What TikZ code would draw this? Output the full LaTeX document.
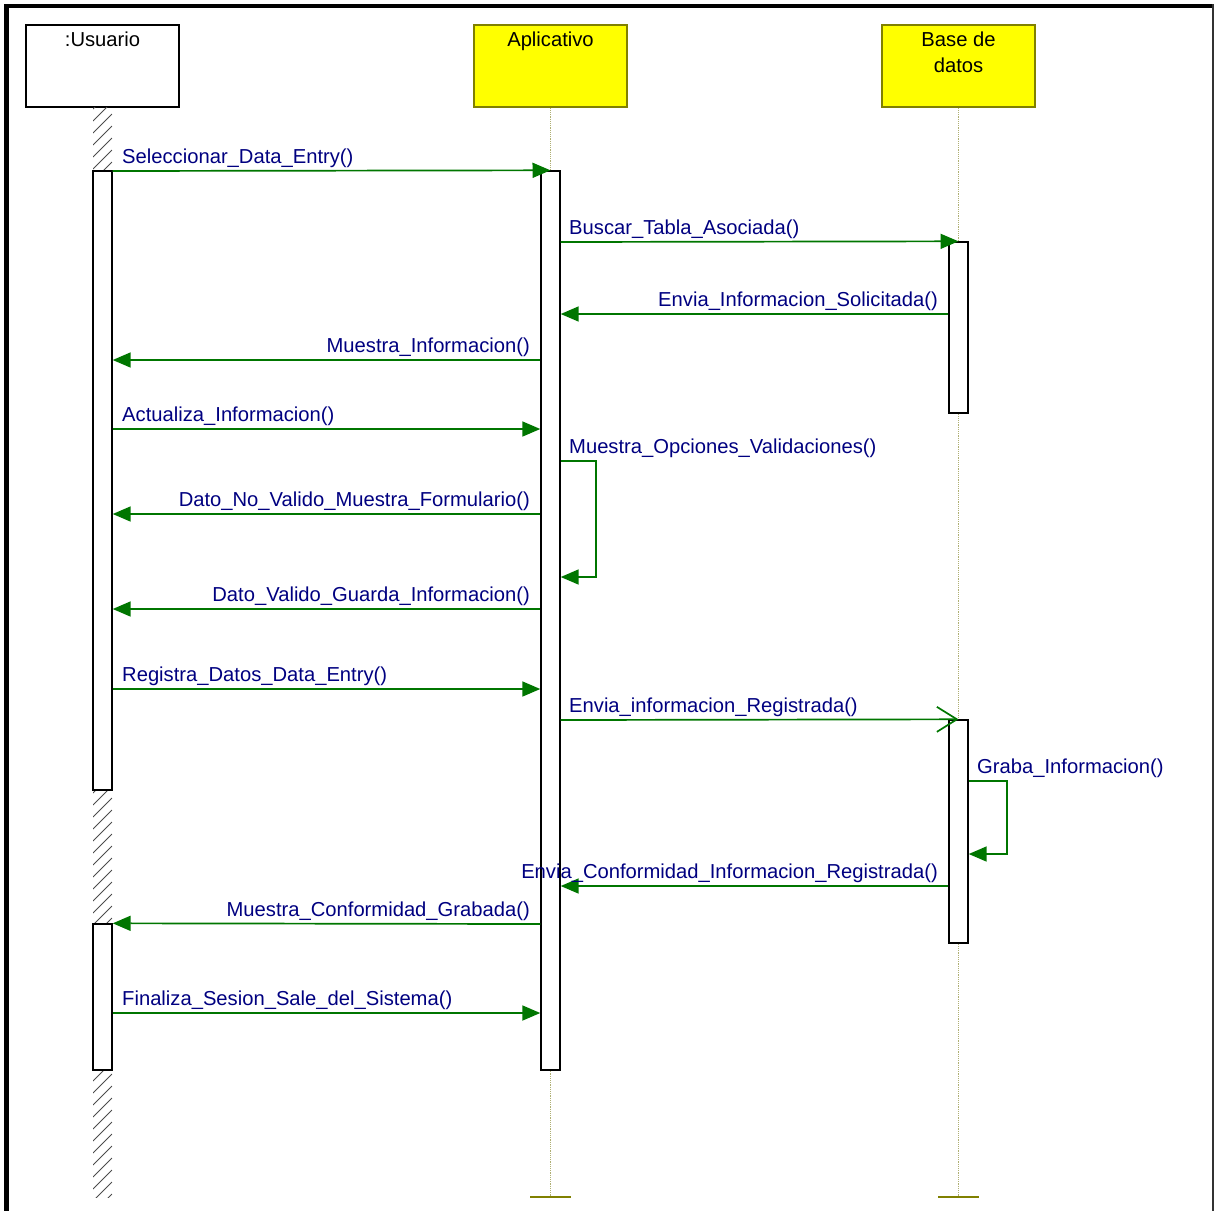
\documentclass[tikz,border=0pt]{standalone}
\usepackage{fontspec}
\setmainfont{Liberation Sans}
\usetikzlibrary{arrows.meta}
\definecolor{msggreen}{RGB}{0,118,0}
\definecolor{msgtext}{RGB}{0,0,128}
\definecolor{hdryellow}{RGB}{255,255,0}
\definecolor{hdrolive}{RGB}{128,128,0}
\definecolor{lifeolive}{RGB}{175,175,115}
\begin{document}
\begin{tikzpicture}[x=1pt,y=-1pt,
  font=\fontsize{20.2}{26}\selectfont,
  objbox/.style={draw=black, fill=white, line width=1.3pt, minimum width=153pt, minimum height=82pt, inner sep=0pt},
  hdr/.style={objbox, draw=hdrolive, fill=hdryellow},
  actbox/.style={draw=black, fill=white, line width=1.4pt, minimum width=19pt, inner sep=0pt},
  msg/.style={draw=msggreen, line width=1.7pt, -{Triangle[length=18pt,width=15pt]}},
  asyncmsg/.style={draw=msggreen, line width=1.7pt, -{Straight Barb[length=20pt,width=25pt]}},
  lbl/.style={text=msgtext, inner sep=0pt},
  hdrtxt/.style={inner sep=0pt, anchor=base},
  lifeline/.style={draw=lifeolive, line width=1.2pt, densely dotted},
  endbar/.style={draw=hdrolive, line width=2pt},
  hatch/.style={draw=black!70, line width=0.9pt}]

\useasboundingbox (0,0) rectangle (1214,1211);

% frame
\draw[line width=4pt] (4,6) -- (1214,6);
\draw[line width=5pt] (6.5,4) -- (6.5,1211);
\draw[line width=2pt, black!80] (1212.5,4) -- (1212.5,1211);

% object heads
\node[objbox] (uH) at (102.5,66) {};
\node[hdr] (aH) at (550.5,66) {};
\node[hdr] (dH) at (958.5,66) {};
\node[hdrtxt] (uT) at (102.5,46) {:Usuario};
\node[hdrtxt] (aT) at (550.5,46) {Aplicativo};
\node[hdrtxt] (dT1) at (958.5,46) {Base de};
\node[hdrtxt] (dT2) at (958.5,72) {datos};

% hatched lifeline of the actor
\begin{scope}
  \clip (93,107.6) rectangle (112,1197);
  \foreach \yy in {90,102,...,1200}
    \draw[hatch] (93,\yy+19) -- (112,\yy);
\end{scope}

% dotted lifelines with end bars
\coordinate (aEnd) at (550.5,1197);
\coordinate (dEnd) at (958.5,1197);
\draw[lifeline] (aH.south) -- (aEnd);
\draw[lifeline] (dH.south) -- (dEnd);
\draw[endbar] ([xshift=-20.5pt]aEnd) -- ([xshift=20.5pt]aEnd);
\draw[endbar] ([xshift=-20.5pt]dEnd) -- ([xshift=20.5pt]dEnd);

% activation bars
\node[actbox, minimum height=619pt] (uA1) at (102.5,480.5) {};
\node[actbox, minimum height=146pt] (uA2) at (102.5,997) {};
\node[actbox, minimum height=899pt] (aA) at (550.5,620.5) {};
\node[actbox, minimum height=171pt] (dA1) at (958.5,327.5) {};
\node[actbox, minimum height=223pt] (dA2) at (958.5,831.5) {};

% messages
\draw[msg] (uA1.east |- 0,171) -- (aA.north);
\node[lbl, anchor=base west] (l1) at (122,163) {Seleccionar\_Data\_Entry()};

\draw[msg] (aA.east |- 0,242) -- (dA1.north);
\node[lbl, anchor=base west] (l2) at (569,234) {Buscar\_Tabla\_Asociada()};

\draw[msg] (dA1.west |- 0,314) -- (aA.east |- 0,314);
\node[lbl, anchor=base east] (l3) at (938,306) {Envia\_Informacion\_Solicitada()};

\draw[msg] (aA.west |- 0,360) -- (uA1.east |- 0,360);
\node[lbl, anchor=base east] (l4) at (530,352) {Muestra\_Informacion()};

\draw[msg] (uA1.east |- 0,429) -- (aA.west |- 0,429);
\node[lbl, anchor=base west] (l5) at (122,421) {Actualiza\_Informacion()};

\draw[msg] (aA.east |- 0,461) -- ++(35,0) -- ++(0,116) -- (aA.east |- 0,577);
\node[lbl, anchor=base west] (l6) at (569,453) {Muestra\_Opciones\_Validaciones()};

\draw[msg] (aA.west |- 0,514) -- (uA1.east |- 0,514);
\node[lbl, anchor=base east] (l7) at (530,506) {Dato\_No\_Valido\_Muestra\_Formulario()};

\draw[msg] (aA.west |- 0,609) -- (uA1.east |- 0,609);
\node[lbl, anchor=base east] (l8) at (530,601) {Dato\_Valido\_Guarda\_Informacion()};

\draw[msg] (uA1.east |- 0,689) -- (aA.west |- 0,689);
\node[lbl, anchor=base west] (l9) at (122,681) {Registra\_Datos\_Data\_Entry()};

\draw[asyncmsg] (aA.east |- 0,720) -- (dA2.north);
\node[lbl, anchor=base west] (l10) at (569,712) {Envia\_informacion\_Registrada()};

\draw[msg] (dA2.east |- 0,781) -- ++(38,0) -- ++(0,73) -- (dA2.east |- 0,854);
\node[lbl, anchor=base west] (l11) at (977,773) {Graba\_Informacion()};

\draw[msg] (dA2.west |- 0,886) -- (aA.east |- 0,886);
\node[lbl, anchor=base east] (l12) at (938,878) {Envia\_Conformidad\_Informacion\_Registrada()};

\draw[msg] (aA.west |- 0,924) -- (uA2.north east);
\node[lbl, anchor=base east] (l13) at (530,916) {Muestra\_Conformidad\_Grabada()};

\draw[msg] (uA2.east |- 0,1013) -- (aA.west |- 0,1013);
\node[lbl, anchor=base west] (l14) at (122,1005) {Finaliza\_Sesion\_Sale\_del\_Sistema()};

\end{tikzpicture}
\end{document}
